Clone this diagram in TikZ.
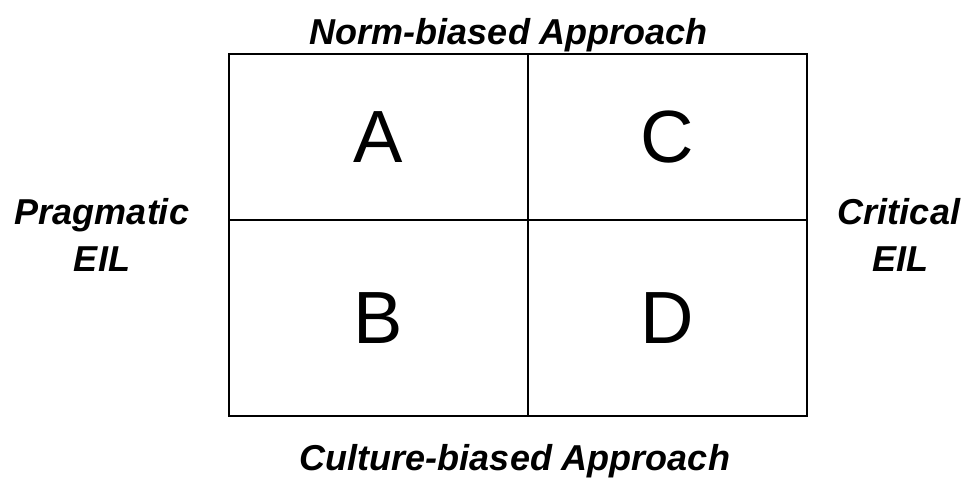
\documentclass[tikz,border=0pt]{standalone}
\usepackage{fontspec}
\setmainfont{Liberation Sans}

\begin{document}
\begin{tikzpicture}[x=1pt,y=-1pt,
  axislabel/.style={anchor=base,inner sep=0pt,font=\fontsize{36}{40}\selectfont\bfseries\itshape},
  cell/.style={inner sep=0pt,font=\fontsize{74}{80}\selectfont}]
\useasboundingbox (0,0) rectangle (966,478);
%\draw[help lines,step=50] (0,0) grid (966,478);
\draw[line width=1.5pt] (229,54) rectangle (807,416);
\draw[line width=2pt] (229,220) -- (807,220);
\draw[line width=1.2pt] (528,54) -- (528,416);

\foreach \n/\x/\y in {A/378/137, C/667/137, B/378/318, D/667/318}
  \node[cell] (cell\n) at (\x,\y) {\n};

\node[axislabel] (norm) at (509,45) {Norm-biased Approach};
\node[axislabel] (culture) at (515,470) {Culture-biased Approach};
\node[axislabel] (prag) at (102,225) {Pragmatic};
\node[axislabel] (pragEIL) at (102,272) {EIL};
\node[axislabel] (crit) at (899,225) {Critical};
\node[axislabel] (critEIL) at (900,272) {EIL};
\end{tikzpicture}
\end{document}
